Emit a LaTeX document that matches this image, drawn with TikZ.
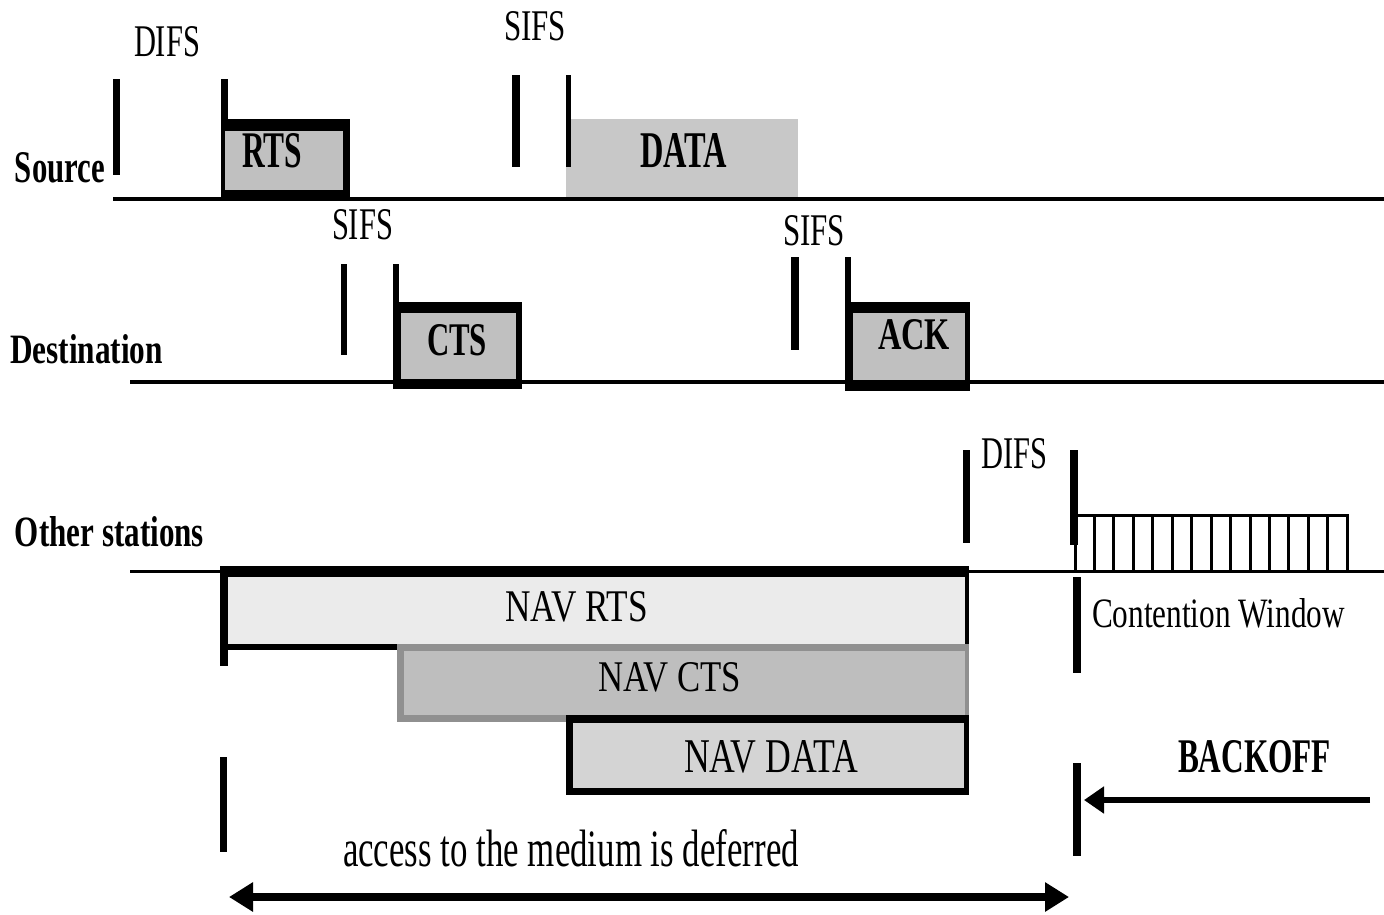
\documentclass[tikz,border=0pt]{standalone}
\usepackage{fontspec}
\setmainfont{Liberation Serif}
\usepackage{graphicx}
\usetikzlibrary{arrows.meta}
\newcommand\fitt[3]{\resizebox{#1pt}{#2pt}{#3}}
\definecolor{boxgray}{gray}{0.753}
\definecolor{datagray}{gray}{0.785}
\definecolor{navrts}{gray}{0.92}
\definecolor{navcts}{gray}{0.745}
\definecolor{navctsb}{gray}{0.565}
\definecolor{navdata}{gray}{0.83}
\begin{document}
\begin{tikzpicture}[x=1pt,y=-1pt,
  lbl/.style={anchor=south west,inner sep=0pt,outer sep=0pt,text=black},
  base/.style={line width=3.5pt},
  arr/.style={line width=#1}]
\useasboundingbox[fill=white] (0,0) rectangle (1384,914);

% ---- Source row ----
\fill (113,79) rectangle (120,175);
\fill (221,79) rectangle (228,119);
\fill (221,119) rectangle (350,197);
\fill[boxgray] (225,131) rectangle (343,190);
\fill[datagray] (566,119) rectangle (798,198);
\fill (512,75) rectangle (520,167);
\fill (566,75) rectangle (571,167);
\draw[base] (113,199) -- (1384,199);

% ---- Destination row ----
\fill (341,264) rectangle (347,355);
\fill (393,264) rectangle (399,302);
\fill (393,302) rectangle (522,389);
\fill[boxgray] (401,313) rectangle (516,379);
\fill (791,257) rectangle (799,350);
\fill (845,257) rectangle (851,302);
\fill (845,302) rectangle (970,391);
\fill[boxgray] (853,313) rectangle (965,380);
\draw[base] (130,382) -- (1384,382);

% ---- Other stations ----
\fill (963,450) rectangle (970,543);
\fill (1070,450) rectangle (1078,545);
\fill (1073,514) rectangle (1349,517);
\foreach \i in {0,...,14} \fill ({1073.5+\i*19.45},517) rectangle ({1076.5+\i*19.45},570);
\fill (1073,577) rectangle (1081,673);
\fill (1073,763) rectangle (1081,856);

% NAV boxes
\fill (220,566) rectangle (969,650);
\fill (220,650) rectangle (228,666);
\fill[navrts] (228,577) rectangle (965,644);
\fill[navctsb] (397,644) rectangle (969,722);
\fill[navcts] (404,651) rectangle (965,715);
\fill (566,715) rectangle (969,795);
\fill[navdata] (573,723) rectangle (964,788);
\fill (220,757) rectangle (227,852);
\draw[line width=3pt] (130,571.5) -- (1384,571.5);

% arrows
\coordinate (bo1) at (1370,800);
\coordinate (bo2) at (1084,800);
\draw[arr=6pt,-{Triangle[length=20pt,width=26pt]}] (bo1) -- (bo2);
\coordinate (da1) at (229,897);
\coordinate (da2) at (1069,897);
\draw[arr=8pt,{Triangle[length=24pt,width=28pt]}-{Triangle[length=24pt,width=28pt]}] (da1) -- (da2);

% ---- texts ----
\node[lbl] (difs1) at (134,57) {\fitt{66}{30}{DIFS}};
\node[lbl] (sifs1) at (504,41) {\fitt{62}{29}{SIFS}};
\node[lbl] (src) at (15,183) {\fitt{90}{30}{\bfseries Source}};
\node[lbl] (rts) at (242,168) {\fitt{60}{34}{\bfseries RTS}};
\node[lbl] (data) at (640,168) {\fitt{87}{34}{\bfseries DATA}};
\node[lbl] (sifs2) at (332,240) {\fitt{61}{30}{SIFS}};
\node[lbl] (dst) at (10,364) {\fitt{153}{29}{\bfseries Destination}};
\node[lbl] (cts) at (427,356) {\fitt{60}{31}{\bfseries CTS}};
\node[lbl] (sifs3) at (783,246) {\fitt{62}{30}{SIFS}};
\node[lbl] (ack) at (878,350) {\fitt{72}{30}{\bfseries ACK}};
\node[lbl] (oth) at (15,547) {\fitt{189}{30}{\bfseries Other stations}};
\node[lbl] (difs2) at (981,469) {\fitt{66}{30}{DIFS}};
\node[lbl] (cw) at (1092,628) {\fitt{253}{29}{Contention Window}};
\node[lbl] (navr) at (505,622) {\fitt{143}{30}{NAV RTS}};
\node[lbl] (navc) at (598,692) {\fitt{143}{29}{NAV CTS}};
\node[lbl] (navd) at (684,773) {\fitt{174}{32}{NAV DATA}};
\node[lbl] (boff) at (1178,773) {\fitt{153}{32}{\bfseries BACKOFF}};
\node[lbl] (acc) at (343,867) {\fitt{456}{37}{access to the medium is deferred}};
\end{tikzpicture}
\end{document}
